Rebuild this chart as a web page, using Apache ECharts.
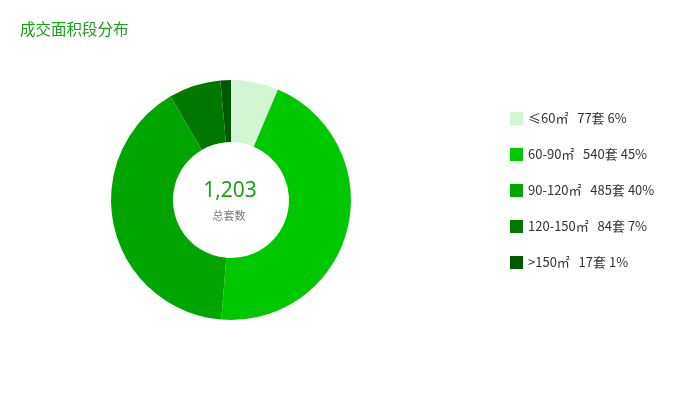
<!DOCTYPE html>
<html><head><meta charset="utf-8">
<script src="https://cdn.jsdelivr.net/npm/echarts@6/dist/echarts.min.js"></script>
<style>html,body{margin:0;padding:0;background:#fff}#c{width:700px;height:420px}</style>
</head><body><div id="c"></div>
<script>
var categories = ['≤60㎡', '60-90㎡', '90-120㎡', '120-150㎡', '>150㎡'];
var counts = [77, 540, 485, 84, 17];
var percents = [6, 45, 40, 7, 1];
var colors = ['#d3f5d3', '#00c800', '#00a500', '#007800', '#005800'];
var total = counts.reduce(function(a,b){return a+b;},0);
var chart = echarts.init(document.getElementById('c'));
chart.setOption({
  animation: false,
  title: {
    text: '成交面积段分布', left: 15, top: 16,
    textStyle: {color: '#1aa31a', fontSize: 15.5, fontWeight: 'normal', fontFamily: 'Noto Sans CJK SC'}
  },
  graphic: [{
    type: 'text', x: 230, y: 191,
    style: {text: total.toLocaleString('en-US'), fill: '#1aa31a', font: '21px "Noto Sans"', textAlign: 'center', textVerticalAlign: 'middle'}
  }, {
    type: 'text', x: 229, y: 216,
    style: {text: '总套数', fill: '#777', font: '11px "Noto Sans CJK SC"', textAlign: 'center', textVerticalAlign: 'middle'}
  }],
  color: colors,
  legend: {
    orient: 'vertical', left: 505, top: 107, itemWidth: 13, itemHeight: 13, itemGap: 23,
    icon: 'rect',
    textStyle: {color: '#333', fontSize: 13, fontFamily: 'Noto Sans CJK SC'},
    formatter: function(name){
      var i = categories.indexOf(name);
      return name + '   ' + counts[i] + '套 ' + percents[i] + '%';
    },
    data: categories
  },
  series: [{
    type: 'pie', center: [231, 200], radius: [58, 120],
    startAngle: 90, clockwise: true,
    label: {show: false}, labelLine: {show: false},
    emphasis: {disabled: true},
    data: categories.map(function(c, i){ return {name: c, value: counts[i]}; })
  }]
});
</script></body></html>
